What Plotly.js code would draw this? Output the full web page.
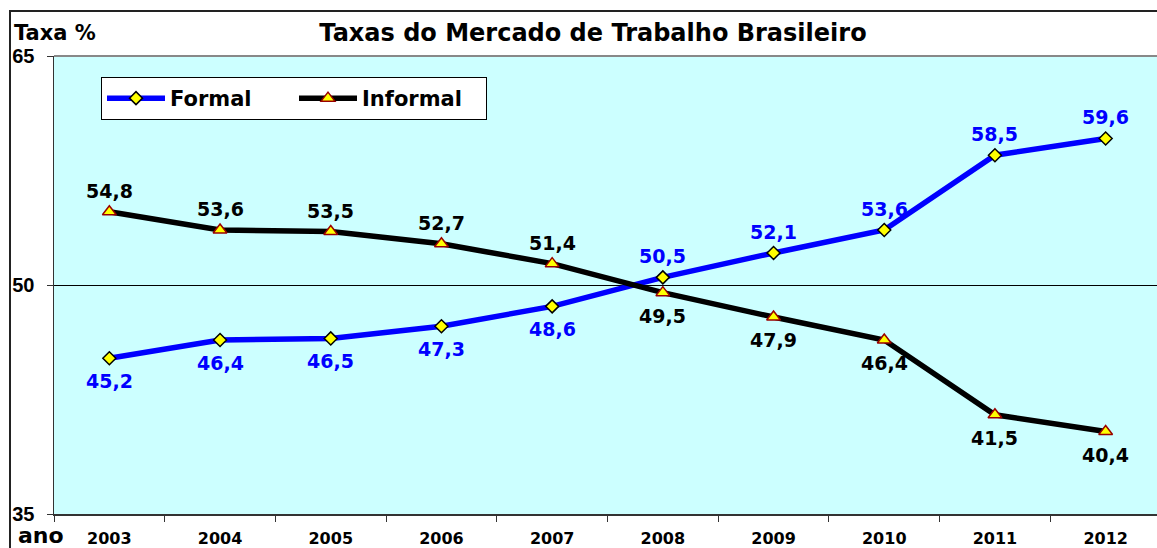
<!DOCTYPE html>
<html>
<head>
<meta charset="utf-8">
<script src="https://cdn.plot.ly/plotly-3.0.1.min.js"></script>
<style>
html, body { margin: 0; padding: 0; overflow: hidden; background: #fff; }
#chart { width: 1161px; height: 548px; }
</style>
</head>
<body>
<div id="chart"></div>
<script>
const years = ['2003','2004','2005','2006','2007','2008','2009','2010','2011','2012'];
const formal = [45.2, 46.4, 46.5, 47.3, 48.6, 50.5, 52.1, 53.6, 58.5, 59.6];
const informal = [54.8, 53.6, 53.5, 52.7, 51.4, 49.5, 47.9, 46.4, 41.5, 40.4];
const yTicks = [35, 50, 65];

const fmt = v => v.toFixed(1).replace('.', ',');
const W = 1161, H = 548, L = 54, T = 56, B = 34;
const pw = W - L, ph = H - T - B;
const px = x => (x - L) / pw;
const py = y => (H - B - y) / ph;

const labelFont = (c) => ({family: 'DejaVu Sans', size: 19, color: c, weight: 'bold'});

const annotations = [];
years.forEach((yr, i) => {
  const fAbove = formal[i] > informal[i];
  annotations.push({x: i, y: formal[i], xref: 'x', yref: 'y', text: fmt(formal[i]),
    showarrow: false, yanchor: 'middle', yshift: fAbove ? 21 : -23, font: labelFont('#0000FF')});
  annotations.push({x: i, y: informal[i], xref: 'x', yref: 'y', text: fmt(informal[i]),
    showarrow: false, yanchor: 'middle', yshift: fAbove ? -23 : 21, font: labelFont('#000000')});
});
annotations.push({xref: 'paper', yref: 'paper', x: px(12), y: py(33), xanchor: 'left', yanchor: 'middle',
  text: 'Taxa %', showarrow: false, font: {family: 'DejaVu Sans', size: 21, color: '#000', weight: 'bold'}});
annotations.push({xref: 'paper', yref: 'paper', x: px(16), y: py(535), xanchor: 'left', yanchor: 'middle',
  text: 'ano', showarrow: false, font: {family: 'DejaVu Sans', size: 22, color: '#000', weight: 'bold'}});

const traces = [
  {x: years, y: formal, name: 'Formal', type: 'scatter', mode: 'lines+markers',
   line: {color: '#0000FF', width: 5.5},
   marker: {symbol: 'diamond', size: 10, color: '#FFFF00', line: {color: '#000000', width: 1.5}}},
  {x: years, y: informal, name: 'Informal', type: 'scatter', mode: 'lines+markers',
   line: {color: '#000000', width: 5.5},
   marker: {symbol: 'triangle-up', size: 12, color: '#FFFF00', line: {color: '#990000', width: 1.5}}}
];

const layout = {
  width: W, height: H,
  margin: {l: L, r: 0, t: T, b: B, pad: 0},
  paper_bgcolor: '#FFFFFF',
  plot_bgcolor: '#CCFFFF',
  title: {text: 'Taxas do Mercado de Trabalho Brasileiro', xref: 'container', yref: 'container',
    x: 593 / W, y: 1 - 33 / H, xanchor: 'center', yanchor: 'middle',
    font: {family: 'DejaVu Sans', size: 24, color: '#000', weight: 'bold'}},
  xaxis: {type: 'category', range: [-0.5, years.length - 0.5], autorange: false,
    tickson: 'boundaries', ticks: 'outside', ticklen: 6, tickcolor: '#333',
    showline: true, linecolor: '#333', linewidth: 1.5, showgrid: false, zeroline: false,
    ticklabelstandoff: 9, fixedrange: true,
    tickfont: {family: 'DejaVu Sans', size: 16, color: '#000', weight: 'bold'}},
  yaxis: {range: [35, 65], autorange: false, tickvals: yTicks, ticktext: yTicks.map(String), ticks: 'outside', ticklen: 6,
    tickcolor: '#333', showline: true, linecolor: '#333', linewidth: 1.5,
    showgrid: true, gridcolor: '#000000', gridwidth: 1, zeroline: false, ticklabelstandoff: 8,
    fixedrange: true,
    tickfont: {family: 'Liberation Sans, Arial', size: 20, color: '#000', weight: 'bold'}},
  showlegend: true,
  legend: {orientation: 'h', x: px(101), y: py(77), xanchor: 'left', yanchor: 'top',
    bgcolor: '#FFFFFF', bordercolor: '#000000', borderwidth: 1, itemwidth: 58, entrywidth: 119,
    font: {family: 'DejaVu Sans', size: 21, color: '#000', weight: 'bold'}},
  shapes: [
    {type: 'line', xref: 'paper', yref: 'paper', x0: 0, x1: 1, y0: 1, y1: 1,
     line: {color: '#888888', width: 2}, layer: 'above'},
    {type: 'rect', xref: 'paper', yref: 'paper', x0: px(10), x1: px(1300), y0: py(600), y1: py(11),
     line: {color: '#222222', width: 2}, layer: 'above'}
  ],
  annotations: annotations
};

Plotly.newPlot('chart', traces, layout, {displayModeBar: false, staticPlot: true});
</script>
</body>
</html>
